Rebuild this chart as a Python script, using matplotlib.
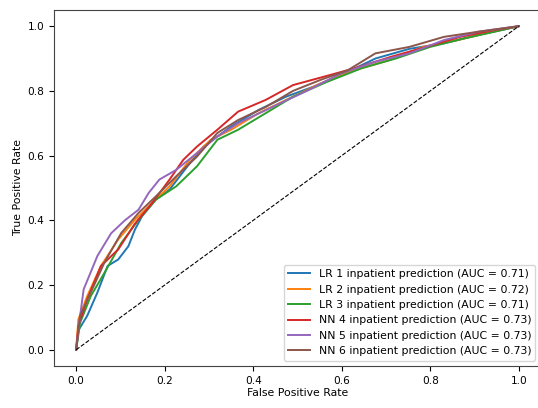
import matplotlib
matplotlib.use('Agg')
import matplotlib.pyplot as plt

# ROC points (FPR, TPR)
lr1_fpr = [0, 0.005, 0.025, 0.048, 0.071, 0.095, 0.118, 0.133, 0.149, 0.18, 0.211, 0.257, 0.288, 0.35, 0.412, 0.474, 0.536, 0.606, 0.676, 0.753, 0.831, 0.909, 1.0]
lr1_tpr = [0, 0.06, 0.105, 0.177, 0.259, 0.279, 0.32, 0.372, 0.413, 0.464, 0.495, 0.577, 0.628, 0.69, 0.741, 0.782, 0.813, 0.854, 0.90, 0.93, 0.947, 0.973, 1.0]

lr2_fpr = [0, 0.005, 0.025, 0.056, 0.095, 0.133, 0.172, 0.211, 0.257, 0.304, 0.35, 0.412, 0.474, 0.552, 0.629, 0.707, 0.784, 0.862, 0.94, 1.0]
lr2_tpr = [0, 0.094, 0.166, 0.259, 0.341, 0.402, 0.454, 0.505, 0.587, 0.649, 0.68, 0.731, 0.772, 0.823, 0.864, 0.895, 0.936, 0.957, 0.983, 1.0]

lr3_fpr = [0, 0.009, 0.033, 0.064, 0.102, 0.141, 0.18, 0.226, 0.273, 0.319, 0.366, 0.428, 0.49, 0.567, 0.645, 0.722, 0.8, 0.876, 0.946, 1.0]
lr3_tpr = [0, 0.084, 0.166, 0.238, 0.33, 0.402, 0.464, 0.505, 0.567, 0.649, 0.68, 0.731, 0.782, 0.828, 0.87, 0.90, 0.936, 0.962, 0.983, 1.0]

nn4_fpr = [0, 0.005, 0.025, 0.056, 0.095, 0.133, 0.172, 0.211, 0.242, 0.273, 0.319, 0.366, 0.428, 0.49, 0.56, 0.629, 0.713, 0.791, 0.868, 0.946, 1.0]
nn4_tpr = [0, 0.074, 0.156, 0.259, 0.31, 0.39, 0.454, 0.526, 0.587, 0.628, 0.68, 0.736, 0.772, 0.818, 0.844, 0.87, 0.906, 0.936, 0.967, 0.988, 1.0]

nn5_fpr = [0, 0.008, 0.017, 0.048, 0.079, 0.11, 0.141, 0.164, 0.188, 0.226, 0.273, 0.319, 0.366, 0.443, 0.521, 0.598, 0.676, 0.753, 0.831, 0.909, 1.0]
nn5_tpr = [0, 0.095, 0.187, 0.29, 0.36, 0.40, 0.433, 0.485, 0.526, 0.556, 0.608, 0.659, 0.70, 0.75, 0.80, 0.854, 0.89, 0.916, 0.957, 0.983, 1.0]

nn6_fpr = [0, 0.009, 0.033, 0.064, 0.102, 0.141, 0.18, 0.226, 0.273, 0.319, 0.366, 0.428, 0.49, 0.552, 0.614, 0.676, 0.753, 0.831, 0.909, 1.0]
nn6_tpr = [0, 0.105, 0.177, 0.27, 0.361, 0.423, 0.474, 0.536, 0.597, 0.67, 0.71, 0.75, 0.80, 0.834, 0.864, 0.916, 0.936, 0.967, 0.983, 1.0]

labels = ['LR 1 inpatient prediction (AUC = 0.71)',
          'LR 2 inpatient prediction (AUC = 0.72)',
          'LR 3 inpatient prediction (AUC = 0.71)',
          'NN 4 inpatient prediction (AUC = 0.73)',
          'NN 5 inpatient prediction (AUC = 0.73)',
          'NN 6 inpatient prediction (AUC = 0.73)']

curves = [(lr1_fpr, lr1_tpr), (lr2_fpr, lr2_tpr), (lr3_fpr, lr3_tpr),
          (nn4_fpr, nn4_tpr), (nn5_fpr, nn5_tpr), (nn6_fpr, nn6_tpr)]

plt.rcParams['font.size'] = 7.8
plt.rcParams['xtick.labelsize'] = 7.6
plt.rcParams['ytick.labelsize'] = 7.6

fig = plt.figure(figsize=(5.38, 4.08), dpi=100)
ax = fig.add_axes([0.1004, 0.103, 0.905, 0.8725])

for (fpr, tpr), lab in zip(curves, labels):
    ax.plot(fpr, tpr, lw=1.4, label=lab)

ax.plot([0, 1], [0, 1], 'k--', lw=0.8)
ax.set_xlim(-0.05, 1.05)
ax.set_ylim(-0.05, 1.05)
ax.set_xlabel('False Positive Rate', labelpad=2)
ax.set_ylabel('True Positive Rate', labelpad=3)
ax.spines['right'].set_visible(False)
for s in ['left', 'top', 'bottom']:
    ax.spines[s].set_color('#444444')
ax.legend(loc='lower right')

fig.savefig('out.png', dpi=100)
